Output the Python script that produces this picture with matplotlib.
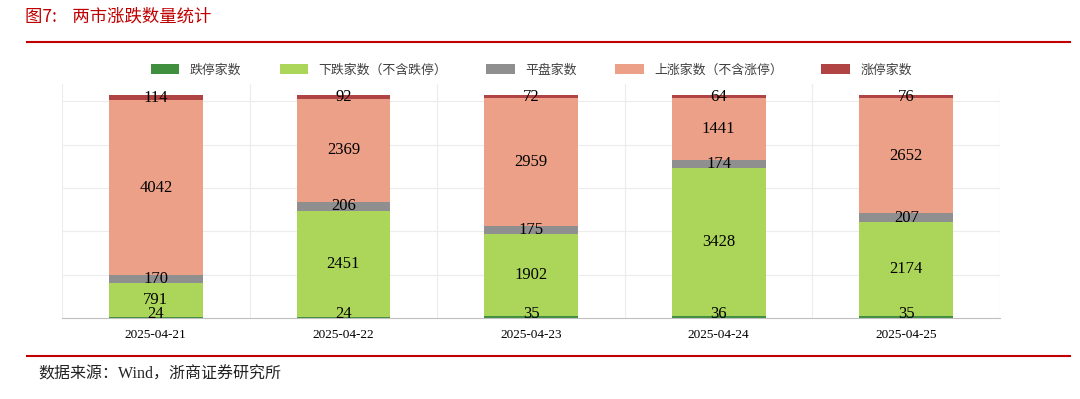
import matplotlib
matplotlib.use('Agg')
import matplotlib.pyplot as plt
import numpy as np

plt.rcParams['font.family'] = ['Liberation Serif', 'Noto Sans CJK SC', 'DejaVu Sans']

dates = ['2025-04-21', '2025-04-22', '2025-04-23', '2025-04-24', '2025-04-25']
limit_down = [24, 24, 35, 36, 35]
down = [791, 2451, 1902, 3428, 2174]
flat = [170, 206, 175, 174, 207]
up = [4042, 2369, 2959, 1441, 2652]
limit_up = [114, 92, 72, 64, 76]

series = [
    ('跌停家数', limit_down, '#3f8f3f'),
    ('下跌家数（不含跌停）', down, '#acd65a'),
    ('平盘家数', flat, '#8f8f8f'),
    ('上涨家数（不含涨停）', up, '#eba087'),
    ('涨停家数', limit_up, '#b04444'),
]

fig = plt.figure(figsize=(10.8, 3.99), dpi=100)
ax = fig.add_axes([62 / 1080, 1 - 318 / 399, 938 / 1080, 234 / 399])

x = np.arange(len(dates))
bottom = np.zeros(len(dates))
handles = []
for name, vals, color in series:
    vals = np.array(vals)
    b = ax.bar(x, vals, 0.5, bottom=bottom, color=color, label=name, zorder=2)
    handles.append(b)
    for xi, v, bt in zip(x, vals, bottom):
        y = bt + v / 2
        if bt == 0:
            y = bt + 100  # bottom labels sit a little above the base
        ax.text(xi, y, str(v), ha='center', va='center',
                fontsize=12, family='Liberation Serif', color='black', zorder=3)
    bottom += vals

ax.set_xlim(-0.5, len(dates) - 0.5)
ax.set_ylim(0, 5400)
ax.set_yticks([1000, 2000, 3000, 4000, 5000])
ax.set_yticklabels([])
ax.tick_params(axis='y', length=0)
ax.set_xticks(x)
ax.set_xticklabels(dates, fontsize=9.5, family='Liberation Serif')
ax.set_xticks(np.arange(-0.5, len(dates)), minor=True)
ax.tick_params(axis='x', which='both', length=0, pad=8)
ax.grid(axis='y', color='#ececec', lw=0.8, zorder=0)
ax.grid(axis='x', which='minor', color='#ececec', lw=0.8, zorder=0)
for s in ['top', 'right', 'left']:
    ax.spines[s].set_visible(False)
ax.spines['bottom'].set_color('#bfbfbf')

fig.legend(handles=handles, loc='center', bbox_to_anchor=(0.492, 1 - 70 / 399), ncol=5,
           frameon=False, prop={'family': 'Noto Sans CJK SC', 'size': 9.3},
           handlelength=2.2, handleheight=0.8, columnspacing=3.0, labelcolor='#404040')

red = '#c00000'
fig.text(25 / 1080, 1 - 17 / 399, '图7:    两市涨跌数量统计', color=red, fontsize=12.5,
         family='Noto Sans CJK SC', va='center')
fig.add_artist(plt.Line2D([27 / 1080, 1070 / 1080], [1 - 42 / 399] * 2, color=red, lw=1.5))
fig.add_artist(plt.Line2D([27 / 1080, 1070 / 1080], [1 - 356 / 399] * 2, color=red, lw=1.5))
fig.text(38 / 1080, 1 - 375 / 399, '数据来源：Wind，浙商证券研究所', fontsize=11.5,
         family=['Liberation Serif', 'Noto Sans CJK SC'], va='center', color='#222222')

fig.savefig('out.png', dpi=100)
